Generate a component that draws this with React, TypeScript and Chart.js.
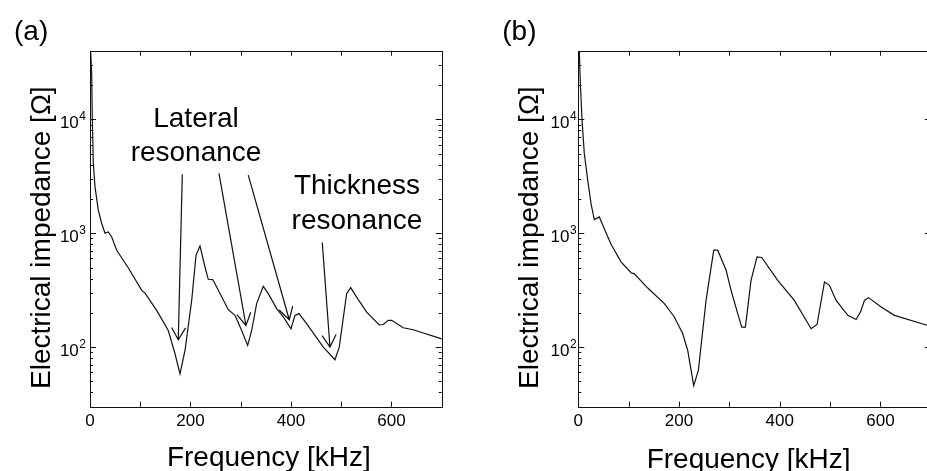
import React, { useEffect, useRef } from 'react';
import { Chart, registerables } from 'chart.js';

Chart.register(...registerables);

// ---- Data ----
// Panel (a): frequency [kHz] and impedance [Ohm]
const freqA = [1.3, 3.3, 4.6, 6.6, 10, 16.5, 23.3, 29.9, 36.4, 43.2, 53.1, 77, 103, 109.5, 132.7, 155.8, 169.2, 179.1, 189.1, 202.4, 211, 218.9, 228.9, 235.4, 244.2, 252.1, 275.2, 288.6, 301.9, 313.8, 321.8, 331.7, 344.9, 354.8, 371.5, 384.7, 400, 408, 415.9, 431.2, 464.3, 487.6, 496.1, 510.8, 518.8, 530.7, 550.6, 575.7, 583.7, 593.6, 600.4, 623.5, 643.4, 700];
const impA = [40000, 25400, 10000, 4100, 2550, 1593, 1217, 1000, 1026, 927, 709, 490, 315, 298, 210, 140, 87.5, 58.3, 93.5, 257, 640, 773, 505, 394, 392, 337, 213, 190, 140, 103.5, 140, 241, 342, 295, 218, 184, 145, 190, 197, 161, 100, 77.5, 100, 295, 333, 275, 203, 157, 158, 172, 172, 148, 142, 118];

// Panel (b)
const freqB = [2, 4, 7.4, 11.9, 18.7, 25.2, 31.8, 41.7, 48.5, 65, 84.8, 104.7, 111.3, 137.9, 171, 190.7, 207.4, 217.3, 229.2, 238.4, 253.7, 269, 276.9, 293.5, 303.4, 316.6, 324.6, 331.8, 343, 354.9, 364.3, 396, 429, 462.3, 474.1, 488.8, 498.7, 512, 535.2, 551.7, 560.3, 568.3, 576.2, 601.4, 627.8, 694.2, 700];
const impB = [40000, 20700, 9860, 5020, 2925, 1825, 1318, 1390, 1180, 800, 560, 450, 440, 330, 241, 184, 131, 93.5, 46, 62.4, 257, 709, 709, 473, 315, 197, 150, 150, 386, 619, 612, 386, 257, 145, 158, 373, 349, 257, 190, 175, 203, 257, 272, 225, 190, 155, 152];

// Axis ranges and tick labels
const xRange = [0, 700];
const yRange = [30, 40000];
const xTickStep = 100;
const xTickLabels = [0, 200, 400, 600];
const yMajorTicks = [100, 1000, 10000];
const yMajorExponents = ['2', '3', '4'];

// Annotation arrows in panel (a): [freq, impedance] start -> tip
const arrowStartsA = [[183.7, 3300], [256.7, 3350], [315, 3236], [462.3, 828]];
const arrowTipsA = [[175.7, 116], [310.4, 155], [396.6, 174], [477.6, 100]];
// Annotation text in panel (a): anchor [freq, impedance] of first line baseline
const noteLinesA = [['Lateral', 'resonance'], ['Thickness', 'resonance']];
const noteAnchorsA = [[211, 8600], [531.3, 2190]];

const FONT = '"Liberation Sans", Arial, Helvetica, sans-serif';
const INK = '#111';

type PanelCfg = {
  freq: number[];
  imp: number[];
  left: number;
  width: number;
  yAxisWidth: number;
  rightPad: number;
  tickGap: number;
  label: string;
  xTitleDx: number;
  xTitleBaseline: number;
  annotate: boolean;
};

function makeDecor(cfg: PanelCfg) {
  return {
    id: 'decor',
    afterDraw(chart: any) {
      const ctx: CanvasRenderingContext2D = chart.ctx;
      const a = chart.chartArea;
      const xs = chart.scales.x;
      const ys = chart.scales.y;
      ctx.save();
      ctx.strokeStyle = INK;
      ctx.lineWidth = 1;
      // frame
      ctx.strokeRect(Math.round(a.left) + 0.5, Math.round(a.top) + 0.5, Math.round(a.right - a.left), Math.round(a.bottom - a.top));
      // x ticks (inward, top & bottom)
      ctx.beginPath();
      for (let v = xRange[0] + xTickStep; v < xRange[1]; v += xTickStep) {
        const px = Math.round(xs.getPixelForValue(v)) + 0.5;
        ctx.moveTo(px, a.bottom);
        ctx.lineTo(px, a.bottom - 5);
        ctx.moveTo(px, a.top);
        ctx.lineTo(px, a.top + 5);
      }
      // y ticks (inward, left & right), major and minor
      for (let k = 1; k <= 4; k++) {
        for (let m = 1; m <= 9; m++) {
          const v = m * Math.pow(10, k);
          if (v <= yRange[0] || v >= yRange[1]) continue;
          const py = Math.round(ys.getPixelForValue(v)) + 0.5;
          const len = m === 1 ? 6 : 3;
          ctx.moveTo(a.left, py);
          ctx.lineTo(a.left + len, py);
          ctx.moveTo(a.right, py);
          ctx.lineTo(a.right - len, py);
        }
      }
      ctx.stroke();

      // y tick labels 10^n
      ctx.fillStyle = '#000';
      yMajorTicks.forEach((v, i) => {
        const py = ys.getPixelForValue(v);
        ctx.font = `12px ${FONT}`;
        const supW = ctx.measureText(yMajorExponents[i]).width;
        const supX = a.left - cfg.tickGap - supW;
        ctx.textAlign = 'left';
        ctx.textBaseline = 'alphabetic';
        ctx.fillText(yMajorExponents[i], supX, py + 1);
        ctx.font = `17px ${FONT}`;
        ctx.textAlign = 'right';
        ctx.fillText('10', supX - 0.5, py + 9);
      });

      // axis titles
      ctx.font = `28px ${FONT}`;
      ctx.textAlign = 'center';
      ctx.textBaseline = 'alphabetic';
      ctx.fillText('Frequency [kHz]', (a.left + a.right) / 2 + cfg.xTitleDx, cfg.xTitleBaseline);
      ctx.save();
      ctx.translate(a.left - 40, (a.top + a.bottom) / 2 + 9);
      ctx.rotate(-Math.PI / 2);
      ctx.fillText('Electrical impedance [Ω]', 0, 0);
      ctx.restore();

      // panel label
      ctx.textAlign = 'left';
      ctx.fillText(cfg.label, a.left - 76, 39.5);

      if (cfg.annotate) {
        // arrows
        ctx.lineWidth = 1.2;
        ctx.beginPath();
        arrowStartsA.forEach((s, i) => {
          const t = arrowTipsA[i];
          const sx = xs.getPixelForValue(s[0]);
          const sy = ys.getPixelForValue(s[1]);
          const tx = xs.getPixelForValue(t[0]);
          const ty = ys.getPixelForValue(t[1]);
          ctx.moveTo(sx, sy);
          ctx.lineTo(tx, ty);
          const ang = Math.atan2(sy - ty, sx - tx);
          const L = 14;
          const d = Math.PI / 6;
          ctx.moveTo(tx + L * Math.cos(ang - d), ty + L * Math.sin(ang - d));
          ctx.lineTo(tx, ty);
          ctx.lineTo(tx + L * Math.cos(ang + d), ty + L * Math.sin(ang + d));
        });
        ctx.stroke();
        // notes
        ctx.font = `28px ${FONT}`;
        ctx.textAlign = 'center';
        noteLinesA.forEach((lines, i) => {
          const nx = xs.getPixelForValue(noteAnchorsA[i][0]);
          const ny = ys.getPixelForValue(noteAnchorsA[i][1]);
          lines.forEach((ln, j) => ctx.fillText(ln, nx, ny + j * 34.5));
        });
      }
      ctx.restore();
    },
  };
}

function Panel({ cfg }: { cfg: PanelCfg }) {
  const ref = useRef<HTMLCanvasElement | null>(null);
  useEffect(() => {
    if (!ref.current) return;
    const chart = new Chart(ref.current, {
      type: 'line',
      data: {
        datasets: [
          {
            data: cfg.freq.map((f, i) => ({ x: f, y: cfg.imp[i] })),
            borderColor: INK,
            borderWidth: 1.2,
            pointRadius: 0,
            tension: 0,
            fill: false,
          },
        ],
      },
      options: {
        animation: false,
        responsive: false,
        maintainAspectRatio: false,
        devicePixelRatio: 1,
        layout: { padding: { left: 0, right: cfg.rightPad, top: 50.7, bottom: 0 } },
        plugins: { legend: { display: false }, tooltip: { enabled: false } },
        scales: {
          x: {
            type: 'linear',
            min: xRange[0],
            max: xRange[1],
            ticks: {
              stepSize: xTickStep,
              autoSkip: false,
              maxRotation: 0,
              padding: 4,
              color: '#000',
              font: { family: FONT, size: 17 },
              callback: (v: any) => (xTickLabels.includes(Number(v)) ? String(v) : ''),
            },
            grid: { display: false, drawTicks: false },
            border: { display: false },
            afterFit: (s: any) => {
              s.height = 64.3;
            },
          },
          y: {
            type: 'logarithmic',
            min: yRange[0],
            max: yRange[1],
            ticks: { display: false },
            grid: { display: false, drawTicks: false },
            border: { display: false },
            afterFit: (s: any) => {
              s.width = cfg.yAxisWidth;
            },
          },
        },
      } as any,
      plugins: [makeDecor(cfg)],
    });
    return () => chart.destroy();
  }, [cfg]);
  return (
    <canvas
      ref={ref}
      width={cfg.width}
      height={471}
      style={{ position: 'absolute', left: cfg.left, top: 0, width: cfg.width, height: 471 }}
    />
  );
}

const panelA: PanelCfg = {
  freq: freqA,
  imp: impA,
  left: 0,
  width: 460,
  yAxisWidth: 90,
  rightPad: 18.3,
  tickGap: 4,
  label: '(a)',
  xTitleDx: 3,
  xTitleBaseline: 465.5,
  annotate: true,
};

const panelB: PanelCfg = {
  freq: freqB,
  imp: impB,
  left: 460,
  width: 500,
  yAxisWidth: 118.3,
  rightPad: 29.2,
  tickGap: 1.7,
  label: '(b)',
  xTitleDx: -6,
  xTitleBaseline: 468,
  annotate: false,
};

export default function App() {
  return (
    <div
      style={{
        position: 'absolute',
        left: 0,
        top: 0,
        width: 927,
        height: 471,
        overflow: 'hidden',
        background: '#fff',
      }}
    >
      <Panel cfg={panelA} />
      <Panel cfg={panelB} />
    </div>
  );
}
